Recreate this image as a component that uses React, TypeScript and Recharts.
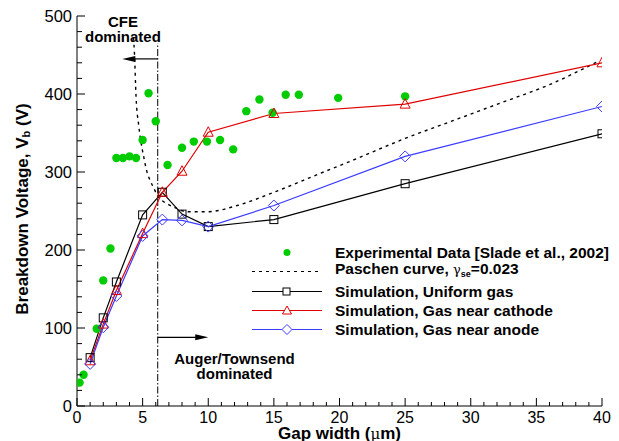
import React from 'react';
import { ComposedChart, Line, Scatter, XAxis, YAxis, ReferenceLine, ReferenceDot } from 'recharts';

// Experimental data [Slade et al., 2002]
const expGap = [0.2, 0.5, 1.5, 2.0, 2.55, 3.0, 3.5, 4.0, 4.5, 5.0, 5.45, 6.0, 6.9, 8.0, 8.9, 9.9, 10.9, 11.9, 12.9, 13.9, 14.9, 15.9, 16.9, 19.9, 25.0];
const expVolt = [30, 40, 99, 161, 202, 318, 318, 320, 318, 341, 401, 365, 309, 331, 339, 339, 341, 329, 378, 393, 376, 399, 399, 395, 397];

// Paschen curve, gamma_se = 0.023
const paschenGap = [4.3, 4.37, 4.5, 4.7, 4.85, 5.1, 5.3, 5.55, 5.8, 6.2, 6.8, 7.5, 8.4, 9.9, 12.2, 15, 18.5, 21, 25, 29, 32.2, 36, 39.6];
const paschenVolt = [472, 455, 396, 360, 341, 318, 302, 290, 281, 268, 260, 254, 249, 249, 257, 274, 298, 315, 343, 368, 388, 412, 441];

// Simulations
const simGap = [1, 2, 3, 5, 6.5, 8, 10, 15, 25, 40];
const uniformVolt = [62, 113, 159, 245, 274, 246, 230, 239, 285, 349];
const cathodeVolt = [58, 105, 148, 221, 274, 301, 351, 375, 387, 440];
const anodeVolt = [54, 101, 141, 218, 239, 238, 230, 257, 320, 384];

const xMajorTicks = [0, 5, 10, 15, 20, 25, 30, 35, 40];
const yMajorTicks = [0, 100, 200, 300, 400, 500];

const regimeBoundary = 6.15;

const FONT = '"Liberation Sans", Arial, Helvetica, sans-serif';
const RED = '#e00000';
const BLUE = '#3c3cff';
const GREEN = '#00cc00';

const toPoints = (xs: number[], ys: number[]) => xs.map((x, i) => ({ x, y: ys[i] }));

const expData = toPoints(expGap, expVolt);
const paschenData = toPoints(paschenGap, paschenVolt);
const uniformData = toPoints(simGap, uniformVolt);
const cathodeData = toPoints(simGap, cathodeVolt);
const anodeData = toPoints(simGap, anodeVolt);

const xTicks = Array.from({ length: 41 }, (_, i) => i);
const yTicks = Array.from({ length: 26 }, (_, i) => i * 20);

const XTick = (props: any) => {
  const { x, y, payload } = props;
  const major = xMajorTicks.includes(payload.value);
  return (
    <g>
      <line x1={x} y1={y} x2={x} y2={y - (major ? 8 : 4)} stroke="#000" strokeWidth={1} />
      {major && (
        <text x={x} y={y + 11} textAnchor="middle" dominantBaseline="central" fontFamily={FONT} fontSize={16} fill="#000">
          {payload.value}
        </text>
      )}
    </g>
  );
};

const YTick = (props: any) => {
  const { x, y, payload } = props;
  const major = yMajorTicks.includes(payload.value);
  return (
    <g>
      <line x1={x} y1={y} x2={x + (major ? 8 : 5)} y2={y} stroke="#000" strokeWidth={1} />
      {major && (
        <text x={x - 5} y={y} textAnchor="end" dominantBaseline="central" fontFamily={FONT} fontSize={16.5} fill="#000">
          {payload.value}
        </text>
      )}
    </g>
  );
};

const Square = (props: any) => {
  const { cx, cy } = props;
  if (cx == null || cy == null) return <g />;
  return <rect x={cx - 4} y={cy - 4} width={8} height={8} fill="none" stroke="#000" strokeWidth={1} />;
};

const Triangle = (props: any) => {
  const { cx, cy } = props;
  if (cx == null || cy == null) return <g />;
  return <path d={`M${cx},${cy - 5.5} L${cx + 5},${cy + 4} L${cx - 5},${cy + 4} Z`} fill="none" stroke={RED} strokeWidth={1} />;
};

const Diamond = (props: any) => {
  const { cx, cy } = props;
  if (cx == null || cy == null) return <g />;
  return <path d={`M${cx},${cy - 5.5} L${cx + 5.5},${cy} L${cx},${cy + 5.5} L${cx - 5.5},${cy} Z`} fill="none" stroke={BLUE} strokeWidth={1} />;
};

const GreenDot = (props: any) => {
  const { cx, cy } = props;
  return <circle cx={cx} cy={cy} r={4.2} fill={GREEN} />;
};

const Arrow = (props: any) => {
  const { x1, y1, x2, y2 } = props;
  const dir = x2 > x1 ? 1 : -1;
  return (
    <g>
      <line x1={x1} y1={y1} x2={x2 - dir * 10} y2={y2} stroke="#000" strokeWidth={1.2} />
      <path d={`M${x2},${y2} L${x2 - dir * 13},${y2 - 3} L${x2 - dir * 13},${y2 + 3} Z`} fill="#000" />
    </g>
  );
};

const BoundaryLine = (props: any) => {
  const { x1, y1, x2, y2 } = props;
  return <line x1={x1} y1={y1} x2={x2} y2={y2} stroke="#000" strokeWidth={1} strokeDasharray="7 2 1.5 2" />;
};

const TwoLineText = (lines: string[]) => (props: any) => {
  const { cx, cy } = props;
  return (
    <g>
      <text x={cx} y={cy} textAnchor="middle" fontFamily={FONT} fontWeight="bold" fontSize={15} fill="#000">
        {lines[0]}
      </text>
      <text x={cx} y={cy + 15.5} textAnchor="middle" fontFamily={FONT} fontWeight="bold" fontSize={15} fill="#000">
        {lines[1]}
      </text>
    </g>
  );
};

const legendRows = [
  { key: 'exp', color: GREEN, kind: 'dot' },
  { key: 'paschen', color: '#000', kind: 'dash' },
  { key: 'uniform', color: '#000', kind: 'square' },
  { key: 'cathode', color: RED, kind: 'triangle' },
  { key: 'anode', color: BLUE, kind: 'diamond' },
];

const legendLabel = (key: string) => {
  if (key === 'exp') return 'Experimental Data [Slade et al., 2002]';
  if (key === 'paschen')
    return (
      <>
        Paschen curve, <span style={{ fontWeight: 'normal', fontFamily: '"DejaVu Serif", serif', fontSize: 13 }}>γ</span>
        <sub style={{ fontSize: 9, verticalAlign: '-3px' }}>se</sub>=0.023
      </>
    );
  if (key === 'uniform') return 'Simulation, Uniform gas';
  if (key === 'cathode') return 'Simulation, Gas near cathode';
  return 'Simulation, Gas near anode';
};

const LegendSample = ({ kind, color }: { kind: string; color: string }) => (
  <svg width={72} height={19} style={{ display: 'block' }}>
    {kind === 'dot' && <circle cx={36} cy={9.5} r={3.5} fill={color} />}
    {kind === 'dash' && <line x1={1} y1={9.5} x2={71} y2={9.5} stroke={color} strokeWidth={1.2} strokeDasharray="3 4" />}
    {kind !== 'dot' && kind !== 'dash' && <line x1={1} y1={9.5} x2={71} y2={9.5} stroke={color} strokeWidth={1.2} />}
    {kind === 'square' && <rect x={32} y={6} width={7} height={7} fill="#fff" stroke={color} />}
    {kind === 'triangle' && <path d="M36,5 L40.5,13 L31.5,13 Z" fill="#fff" stroke={color} />}
    {kind === 'diamond' && <path d="M36,4.5 L41,9.5 L36,14.5 L31,9.5 Z" fill="#fff" stroke={color} />}
  </svg>
);

const ChartLegend = () => (
  <div style={{ position: 'absolute', left: 251, top: 243, fontFamily: FONT, fontWeight: 'bold', fontSize: 15.5, color: '#000' }}>
    {legendRows.map((row) => (
      <div key={row.key} style={{ display: 'flex', alignItems: 'center', height: 19.3 }}>
        <LegendSample kind={row.kind} color={row.color} />
        <div style={{ marginLeft: 12, whiteSpace: 'nowrap', lineHeight: '19px' }}>{legendLabel(row.key)}</div>
      </div>
    ))}
  </div>
);

export default function App() {
  return (
    <div style={{ position: 'absolute', left: 0, top: 0, width: 619, height: 441, background: '#fff', overflow: 'hidden' }}>
      <ComposedChart width={619} height={441} margin={{ top: 16, right: 17, left: 0, bottom: 0 }}>
        <XAxis
          type="number"
          dataKey="x"
          domain={[0, 40]}
          ticks={xTicks}
          interval={0}
          allowDataOverflow
          height={35}
          tickSize={0}
          tickMargin={0}
          tickLine={false}
          tick={<XTick />}
          axisLine={{ stroke: '#000', strokeWidth: 1 }}
          label={{
            content: (p: any) => {
              const vb = p.viewBox;
              return (
                <text x={vb.x + vb.width / 2} y={439} textAnchor="middle" fontFamily={FONT} fontWeight="bold" fontSize={17} fill="#000">
                  Gap width (<tspan fontWeight="normal" fontFamily='"DejaVu Serif", serif' fontSize={15}>μ</tspan>m)
                </text>
              );
            },
          }}
        />
        <YAxis
          type="number"
          dataKey="y"
          domain={[0, 500]}
          ticks={yTicks}
          interval={0}
          allowDataOverflow
          width={77}
          tickSize={0}
          tickMargin={0}
          tickLine={false}
          tick={<YTick />}
          axisLine={{ stroke: '#000', strokeWidth: 1 }}
          label={{
            content: (p: any) => {
              const vb = p.viewBox;
              const cy = vb.y + vb.height / 2 - 2;
              return (
                <text x={22} y={cy} transform={`rotate(-90 22 ${cy})`} textAnchor="middle" dominantBaseline="central" fontFamily={FONT} fontWeight="bold" fontSize={17} fill="#000">
                  Breakdown Voltage, V<tspan fontSize={11} dy={4}>b</tspan>
                  <tspan dy={-4}> (V)</tspan>
                </text>
              );
            },
          }}
        />
        <ReferenceLine segment={[{ x: regimeBoundary, y: 0 }, { x: regimeBoundary, y: 465 }]} shape={<BoundaryLine />} />
        <ReferenceLine segment={[{ x: regimeBoundary, y: 445 }, { x: 3.45, y: 445 }]} shape={<Arrow />} />
        <ReferenceLine segment={[{ x: regimeBoundary, y: 88 }, { x: 10, y: 88 }]} shape={<Arrow />} />
        <ReferenceDot x={3.5} y={486} r={0} shape={TwoLineText(['CFE', 'dominated'])} />
        <ReferenceDot x={12.0} y={54} r={0} shape={TwoLineText(['Auger/Townsend', 'dominated'])} />
        <Line data={paschenData} dataKey="y" type="monotone" stroke="#000" strokeWidth={1.4} strokeDasharray="3 4" dot={false} isAnimationActive={false} />
        <Scatter data={expData} dataKey="y" shape={<GreenDot />} isAnimationActive={false} />
        <Line data={uniformData} dataKey="y" type="linear" stroke="#000" strokeWidth={1.2} dot={<Square />} isAnimationActive={false} />
        <Line data={cathodeData} dataKey="y" type="linear" stroke={RED} strokeWidth={1.2} dot={<Triangle />} isAnimationActive={false} />
        <Line data={anodeData} dataKey="y" type="linear" stroke={BLUE} strokeWidth={1.2} dot={<Diamond />} isAnimationActive={false} />
      </ComposedChart>
      <ChartLegend />
    </div>
  );
}
